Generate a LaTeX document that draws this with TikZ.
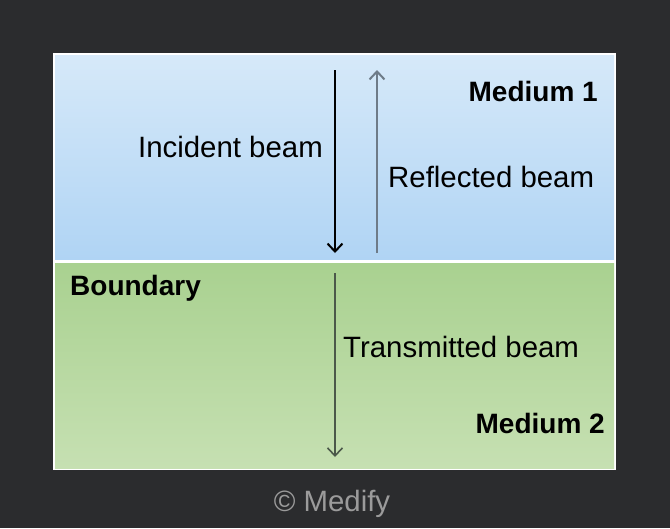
\documentclass[tikz,border=0pt]{standalone}
\usepackage{fontspec}
\setmainfont{Liberation Sans}
\usetikzlibrary{arrows.meta}
\definecolor{bgdark}{RGB}{43,44,46}
\definecolor{blueTop}{RGB}{214,233,249}
\definecolor{blueBot}{RGB}{176,212,244}
\definecolor{greenTop}{RGB}{169,209,144}
\definecolor{greenBot}{RGB}{198,224,178}
\definecolor{reflgray}{RGB}{110,123,136}
\definecolor{transgray}{RGB}{75,88,74}
\definecolor{copygray}{RGB}{155,155,155}
\tikzset{
  lbl/.style={inner sep=0pt, font=\fontsize{29.4}{32}\selectfont, text=black},
  boldlbl/.style={inner sep=0pt, font=\fontsize{28}{32}\selectfont\bfseries, text=black},
  beam/.style={line width=2pt, -{Straight Barb[length=8pt,width=15pt]}},
}
\begin{document}
\begin{tikzpicture}[x=1pt,y=-1pt]
\useasboundingbox (0,0) rectangle (670,528);
\fill[bgdark] (0,0) rectangle (670,528);
% panel
\fill[white] (53,53) rectangle (616,470);
\shade[top color=blueTop, bottom color=blueBot] (55,55) rectangle (614,259);
\shade[top color=greenTop, bottom color=greenBot] (55,263) rectangle (614,468);
% beams
\coordinate (incA) at (335,70);
\coordinate (incB) at (335,253);
\coordinate (refA) at (377,253);
\coordinate (refB) at (377,70);
\coordinate (trA) at (335,273);
\coordinate (trB) at (335,457);
\draw[beam, black] (incA) -- (incB);
\draw[beam, reflgray] (refA) -- (refB);
\draw[beam, transgray, line width=1.6pt] (trA) -- (trB);
% labels
\node[boldlbl, anchor=base east] (m1) at (598,101) {Medium 1};
\node[lbl, anchor=base east] (inc) at (323,157) {Incident beam};
\node[lbl, anchor=base west] (refl) at (388,187) {Reflected beam};
\node[boldlbl, anchor=base west] (bnd) at (70,295) {Boundary};
\node[lbl, anchor=base west] (trans) at (343,357) {Transmitted beam};
\node[boldlbl, anchor=base east] (m2) at (605,433) {Medium 2};
\node[lbl, anchor=base, text=copygray] (copy) at (332,511) {© Medify};
\end{tikzpicture}
\end{document}
